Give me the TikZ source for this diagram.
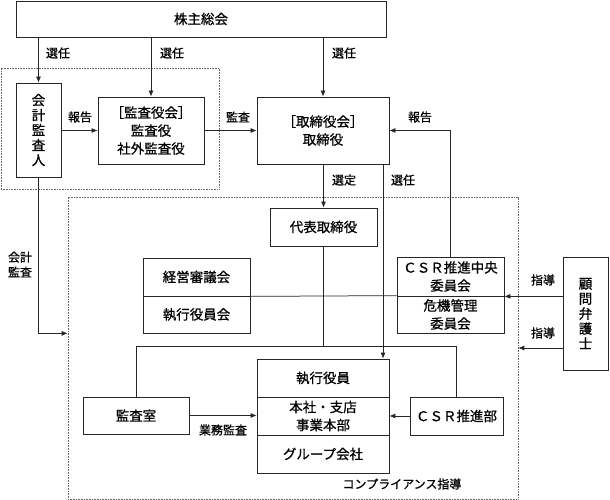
\documentclass[tikz,border=0pt]{standalone}
\usepackage{fontspec}
\setmainfont{Noto Sans CJK JP}[FakeBold=0.8]
\usetikzlibrary{arrows.meta}
\begin{document}
\begin{tikzpicture}[x=1pt,y=-1pt,
  box/.style={draw=black!85,line width=0.75pt,inner sep=0pt,align=center,font=\fontsize{13.5}{18}\selectfont},
  lbl/.style={inner sep=0pt,font=\fontsize{12}{15}\selectfont,align=center},
  conn/.style={draw=black!85,line width=0.75pt},
  arr/.style={conn,-{Latex[length=6pt,width=5pt]}},
  dotbox/.style={draw=black!60,line width=0.6pt,dash pattern=on 0.8pt off 0.8pt}]
\useasboundingbox (0,0) rectangle (610,500);
% dotted groups
\node[dotbox,minimum width=218pt,minimum height=121pt,inner sep=0pt] (d1) at (110,128.5) {};
\node[dotbox,minimum width=450pt,minimum height=302pt,inner sep=0pt] (d2) at (293,348) {};
% boxes
\node[box,minimum width=370pt,minimum height=36pt] (sh) at (201,19) {株主総会};
\node[box,minimum width=45pt,minimum height=94pt,font=\fontsize{13.5}{15}\selectfont] (ka) at (38.5,130) {会\\計\\監\\査\\人};
\node[box,minimum width=106pt,minimum height=67pt] (kr) at (151,130.5) {［監査役会］\\監査役\\社外監査役};
\node[box,minimum width=132pt,minimum height=67pt] (tr) at (323,130.5) {［取締役会］\\取締役};
\node[box,minimum width=107pt,minimum height=38pt] (dh) at (323.5,227) {代表取締役};
\node[box,minimum width=107pt,minimum height=38pt] (kk) at (196.5,277) {経営審議会};
\node[box,minimum width=107pt,minimum height=37pt] (sk) at (196.5,314.5) {執行役員会};
\node[box,minimum width=107pt,minimum height=39pt] (c1) at (450.5,276.5) {ＣＳＲ推進中央\\委員会};
\node[box,minimum width=107pt,minimum height=37pt] (c2) at (450.5,314.5) {危機管理\\委員会};
\node[box,minimum width=45pt,minimum height=113pt,font=\fontsize{13.5}{15}\selectfont] (km) at (585.5,313.5) {顧\\問\\弁\\護\\士};
\node[box,minimum width=132pt,minimum height=38pt] (sy) at (323,378) {執行役員};
\node[box,minimum width=132pt,minimum height=38pt] (hs) at (323,416) {本社・支店\\事業本部};
\node[box,minimum width=132pt,minimum height=38pt] (gr) at (323,454) {グループ会社};
\node[box,minimum width=106pt,minimum height=37pt] (ks) at (136,415.5) {監査室};
\node[box,minimum width=93pt,minimum height=38pt] (cb) at (456.5,416) {ＣＳＲ推進部};
% connectors
\draw[arr] (sh.south -| ka.north) -- (ka.north);
\draw[arr] (sh.south -| kr.north) -- (kr.north);
\draw[arr] (sh.south -| tr.north) -- (tr.north);
\draw[arr] (ka.east |- kr.west) -- (kr.west);
\draw[arr] (kr.east) -- (tr.west);
\draw[arr] (tr.south -| dh.north) -- (dh.north);
\draw[arr] ([xshift=60pt]tr.south) -- ([xshift=60pt]sy.north);
\draw[arr] (c1.north) |- (tr.east);
\draw[arr] (ka.south) |- (sk.south -| d2.west);
\draw[arr] (km.west |- c1.south) -- (c1.south east);
\draw[conn] (c2.north west) -- (kk.south east);
\draw[arr] ([yshift=-34.5pt]km.west) -- ([yshift=-34.5pt]km.west -| d2.east);
\coordinate (bus) at (0,346);
\draw[conn] (dh.south) -- (dh.south |- bus);
\draw[conn] (ks.north) -- (ks.north |- bus) -- (cb.north |- bus) -- (cb.north);
\draw[arr] (ks.east) -- (ks.east -| hs.west);
\draw[arr] (cb.west) -- (hs.east);
% labels
\node[lbl] (l1) at (58,53) {選任};
\node[lbl] (l2) at (172,53) {選任};
\node[lbl] (l3) at (344,53) {選任};
\node[lbl] (l4) at (80,117) {報告};
\node[lbl] (l5) at (238,117) {監査};
\node[lbl] (l6) at (420,117) {報告};
\node[lbl] (l7) at (344,180) {選定};
\node[lbl] (l8) at (403,180) {選任};
\node[lbl] (l9) at (20,264.5) {会計\\監査};
\node[lbl] (l10) at (543,280) {指導};
\node[lbl] (l11) at (543,333) {指導};
\node[lbl] (l12) at (223,430) {業務監査};
\node[lbl] (l13) at (402,484) {コンプライアンス指導};
\end{tikzpicture}
\end{document}
